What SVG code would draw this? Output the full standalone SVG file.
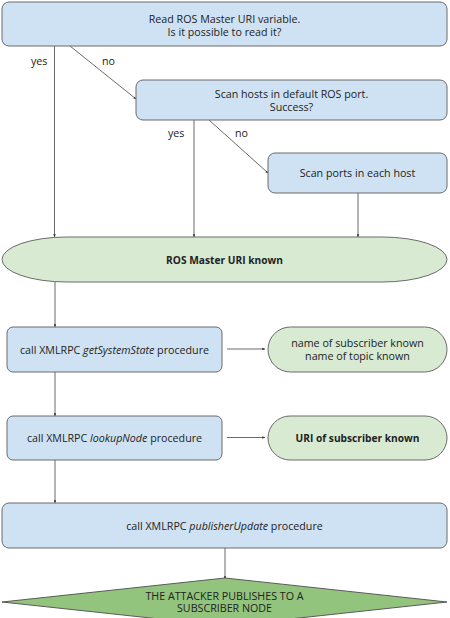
<svg xmlns="http://www.w3.org/2000/svg" width="450" height="618" viewBox="0 0 450 618">
<defs>
<style>
.box{fill:#cfe2f3;stroke:#6b6b6b;stroke-width:1}
.ok{fill:#d9ead3;stroke:#6b6b6b;stroke-width:1}
.goal{fill:#93c47d;stroke:#5a5a5a;stroke-width:1}
text{font-family:"Open Sans","Noto Sans",sans-serif;font-size:10.7px;fill:#222;text-anchor:middle}
.b{font-weight:bold;font-size:10.2px}
.lbl{text-anchor:start}
.con{stroke:#595959;stroke-width:0.9;fill:none;marker-end:url(#ah)}
</style>
<marker id="ah" viewBox="0 0 6 6" refX="6" refY="3" markerWidth="3" markerHeight="3" orient="auto" markerUnits="strokeWidth">
<path d="M0,0 L6,3 L0,6 z" fill="#333"/>
</marker>
</defs>
<rect width="450" height="618" fill="#fff"/>
<g id="connectors">
<line class="con" x1="54.5" y1="46" x2="54.5" y2="237"/>
<line class="con" x1="70" y1="46" x2="136" y2="99"/>
<line class="con" x1="194" y1="120" x2="194" y2="237"/>
<line class="con" x1="209" y1="120" x2="268" y2="173"/>
<line class="con" x1="358" y1="193" x2="358" y2="237"/>
<line class="con" x1="55" y1="282" x2="55" y2="327"/>
<line class="con" x1="227" y1="349" x2="265" y2="349"/>
<line class="con" x1="55" y1="372" x2="55" y2="416"/>
<line class="con" x1="227" y1="437.5" x2="265" y2="437.5"/>
<line class="con" x1="55" y1="460" x2="55" y2="503"/>
<line class="con" x1="225" y1="548" x2="225" y2="579"/>
<text class="lbl" x="31" y="65">yes</text>
<text class="lbl" x="102" y="65">no</text>
<text class="lbl" x="168" y="137">yes</text>
<text class="lbl" x="235" y="137">no</text>
</g>
<g id="read-uri">
<rect class="box" x="2" y="2" width="445" height="44" rx="7"/>
<text x="224.5" y="22.5">Read ROS Master URI variable.</text>
<text x="224.5" y="35.5">Is it possible to read it?</text>
</g>
<g id="scan-hosts">
<rect class="box" x="136" y="80" width="311" height="40" rx="7"/>
<text x="291.5" y="98">Scan hosts in default ROS port.</text>
<text x="291.5" y="111">Success?</text>
</g>
<g id="scan-ports">
<rect class="box" x="268" y="153" width="179" height="40" rx="7"/>
<text x="357.5" y="177">Scan ports in each host</text>
</g>
<g id="uri-known">
<rect class="ok" x="2" y="237" width="445" height="45" rx="65" ry="22.5"/>
<text class="b" x="224.5" y="263.5">ROS Master URI known</text>
</g>
<g id="get-system-state">
<rect class="box" x="7" y="327" width="215" height="45" rx="6"/>
<text x="114.5" y="353.5">call XMLRPC <tspan font-style="italic">getSystemState</tspan> procedure</text>
</g>
<g id="names-known">
<rect class="ok" x="268" y="327" width="179" height="45" rx="22.5"/>
<text x="357.5" y="347">name of subscriber known</text>
<text x="357.5" y="360">name of topic known</text>
</g>
<g id="lookup-node">
<rect class="box" x="7" y="416" width="215" height="44" rx="6"/>
<text x="114.5" y="442">call XMLRPC <tspan font-style="italic">lookupNode</tspan> procedure</text>
</g>
<g id="subscriber-uri">
<rect class="ok" x="268" y="416" width="179" height="44" rx="22"/>
<text class="b" x="357.5" y="441.5">URI of subscriber known</text>
</g>
<g id="publisher-update">
<rect class="box" x="2" y="503" width="445" height="45" rx="7"/>
<text x="224.5" y="529.5">call XMLRPC <tspan font-style="italic">publisherUpdate</tspan> procedure</text>
</g>
<g id="attacker-publishes">
<polygon class="goal" points="225,578 447,602 225,626 2,602"/>
<text x="224.5" y="599.5">THE ATTACKER PUBLISHES TO A</text>
<text x="224.5" y="612">SUBSCRIBER NODE</text>
</g>
</svg>
